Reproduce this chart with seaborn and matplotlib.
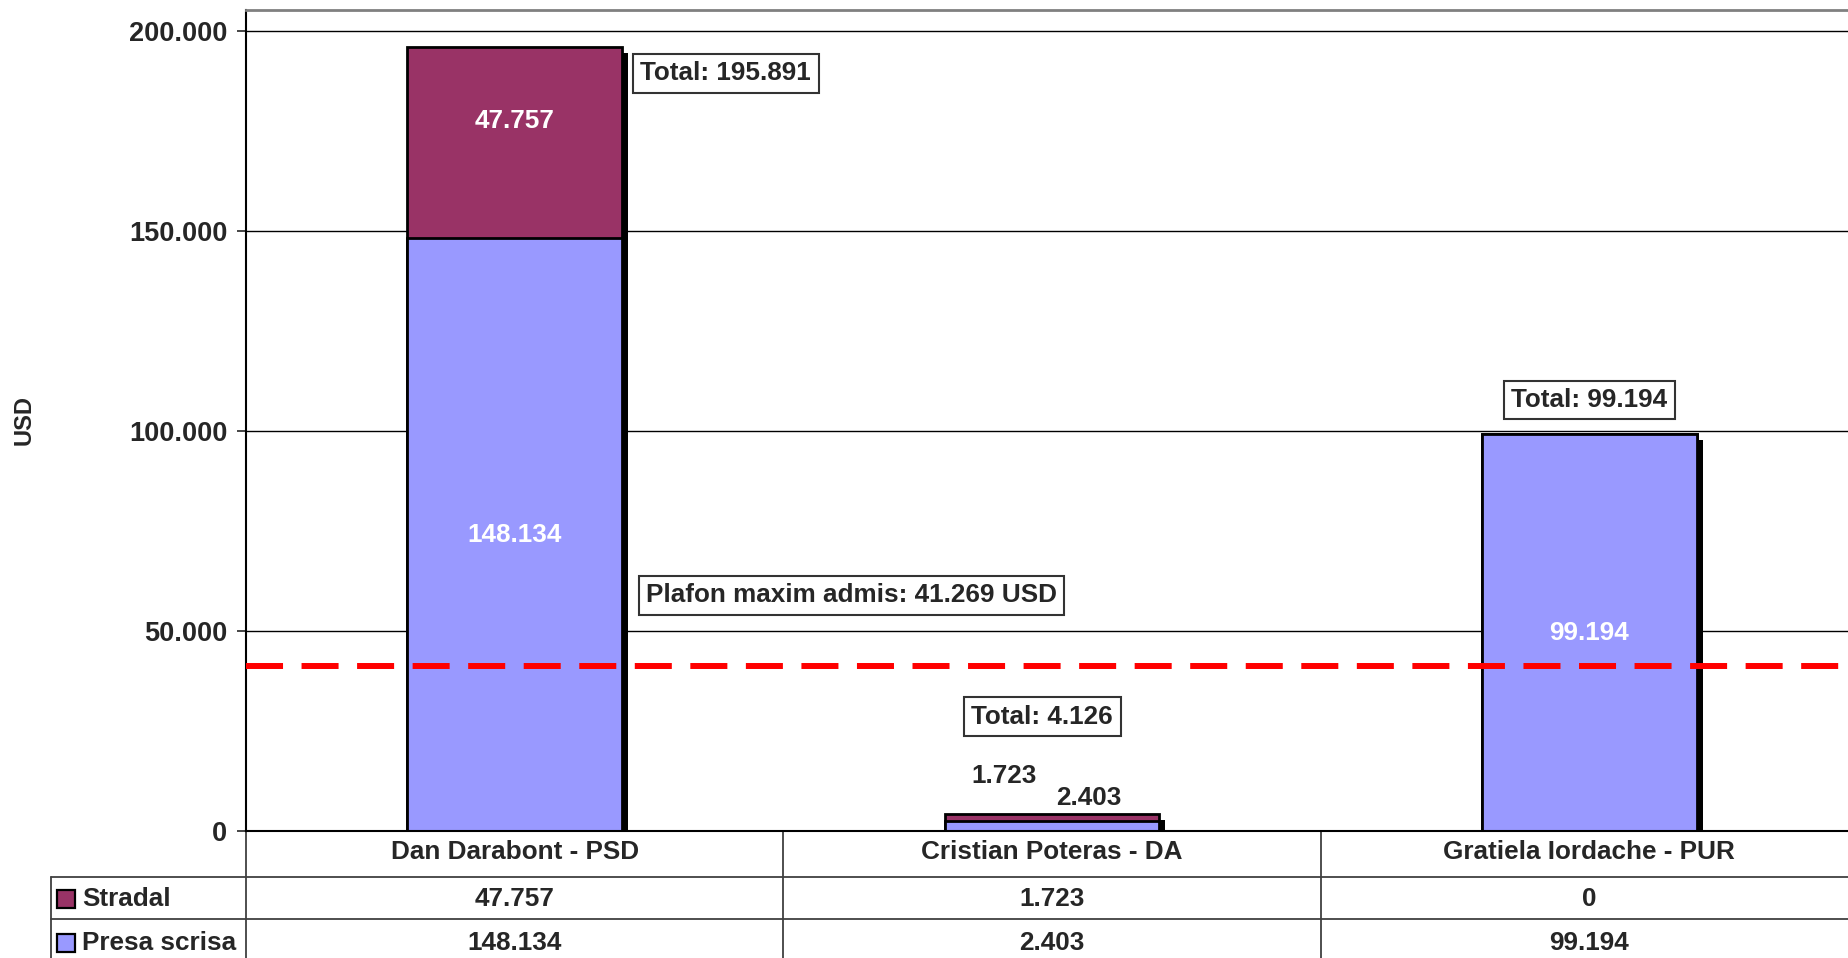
import matplotlib
matplotlib.use("Agg")
import matplotlib.pyplot as plt
import matplotlib.patheffects as pe
from matplotlib.ticker import FuncFormatter
import seaborn as sns
import pandas as pd

# data
candidati = ["Dan Darabont - PSD", "Cristian Poteras - DA", "Gratiela Iordache - PUR"]
stradal = [47757, 1723, 0]
presa_scrisa = [148134, 2403, 99194]
plafon = 41269
serii = ["Stradal", "Presa scrisa"]
culori = ["#993366", "#9999FF"]


def fmt(v):
    return f"{int(v):,}".replace(",", ".")


sns.set_style("white")
plt.rcParams["font.family"] = ["Liberation Sans", "DejaVu Sans"]
plt.rcParams["font.weight"] = "bold"
fs = 18.8

df = pd.DataFrame({"Candidat": candidati, "Stradal": stradal, "Presa scrisa": presa_scrisa})
df["Total"] = df["Stradal"] + df["Presa scrisa"]

fig = plt.figure(figsize=(18.48, 9.58), dpi=100)
ax = fig.add_axes([246 / 1848, 127 / 958, 1612 / 1848, 821 / 958])

# stacked bars: total in Stradal colour, presa drawn on top
sns.barplot(data=df, x="Candidat", y="Total", color=culori[0], width=0.4,
            edgecolor="black", linewidth=2, errorbar=None, saturation=1, ax=ax)
shadow = [pe.SimplePatchShadow(offset=(4.3, -4.3), shadow_rgbFace="black", alpha=1.0), pe.Normal()]
for p in ax.patches:
    p.set_path_effects(shadow)
sns.barplot(data=df, x="Candidat", y="Presa scrisa", color=culori[1], width=0.4,
            edgecolor="black", linewidth=2, errorbar=None, saturation=1, ax=ax)

ax.set_xlim(-0.5, 2.5)
ax.set_ylim(0, 205250)
ax.set_yticks([0, 50000, 100000, 150000, 200000])
ax.yaxis.set_major_formatter(FuncFormatter(lambda v, _: fmt(v)))
ax.tick_params(axis="y", labelsize=19.5, length=6.5, width=1.2, pad=7, left=True, direction="out")
ax.set_xticks([])
ax.set_xlabel("")
ax.set_ylabel("")
ax.yaxis.grid(True, color="black", linewidth=1)
ax.set_axisbelow(True)
for s in ["left", "bottom"]:
    ax.spines[s].set_color("black")
    ax.spines[s].set_linewidth(1.5)
ax.spines["top"].set_color("#808080")
ax.spines["top"].set_linewidth(2)
ax.spines["right"].set_visible(False)

fig.text(24 / 1848, (958 - 420) / 958, "USD", rotation=90, ha="center", va="center",
         fontsize=17, fontweight="bold")

# plafon line
ax.axhline(plafon, color="#FF0000", lw=4.3, dashes=(6.2, 3.1), zorder=5)
box = dict(boxstyle="square,pad=0.28", fc="white", ec="#333333", lw=1.5)
ax.text(0.627, 58900, f"Plafon maxim admis: {fmt(plafon)} USD", ha="center", va="center",
        fontsize=fs, fontweight="bold", bbox=box, zorder=6)

# segment labels
for i in (0, 2):
    ax.text(i, presa_scrisa[i] / 2, fmt(presa_scrisa[i]), color="white", ha="center",
            va="center", fontsize=fs, fontweight="bold", zorder=6)
ax.text(0, 177500, fmt(stradal[0]), color="white", ha="center",
        va="center", fontsize=fs, fontweight="bold", zorder=6)
ax.text(0.91, 13750, fmt(stradal[1]), ha="center", va="center", fontsize=fs, fontweight="bold")
ax.text(1.069, 8250, fmt(presa_scrisa[1]), ha="center", va="center", fontsize=fs, fontweight="bold")

# total boxes
tot_pos = [(0.393, 189400), (0.982, 28600), (2.0, 107750)]
for (x, y), t in zip(tot_pos, df["Total"]):
    ax.text(x, y, f"Total: {fmt(t)}", ha="center", va="center", fontsize=fs,
            fontweight="bold", bbox=box, zorder=6)

# data table under the chart
tr = ax.get_xaxis_transform()
lc = "#404040"
row_y = [-0.0256, -0.0828, -0.1364]
for i, c in enumerate(candidati):
    ax.text(i, row_y[0], c, transform=tr, ha="center", va="center", fontsize=fs, fontweight="bold")
    ax.text(i, row_y[1], fmt(stradal[i]), transform=tr, ha="center", va="center",
            fontsize=fs, fontweight="bold")
    ax.text(i, row_y[2], fmt(presa_scrisa[i]), transform=tr, ha="center", va="center",
            fontsize=fs, fontweight="bold")
for xs in (0.5, 1.5):
    ax.plot([xs, xs], [0, -0.2], transform=tr, color=lc, lw=1.3, clip_on=False)
ax.plot([0, 0], [0, -0.2], transform=ax.transAxes, color=lc, lw=1.3, clip_on=False)
ax.plot([-0.121, -0.121], [-0.056, -0.2], transform=ax.transAxes, color=lc, lw=1.3, clip_on=False)
for yy in (-0.056, -0.1072):
    ax.plot([-0.121, 1], [yy, yy], transform=ax.transAxes, color=lc, lw=1.3, clip_on=False)
for s, col, yy in zip(serii, culori, row_y[1:]):
    ax.plot([-0.1117], [yy], transform=ax.transAxes, marker="s", ms=12.5, mfc=col,
            mec="black", mew=1.6, clip_on=False)
    ax.text(-0.1017, yy, s, transform=ax.transAxes, ha="left", va="center",
            fontsize=fs, fontweight="bold")

fig.savefig("out.png", dpi=100)
